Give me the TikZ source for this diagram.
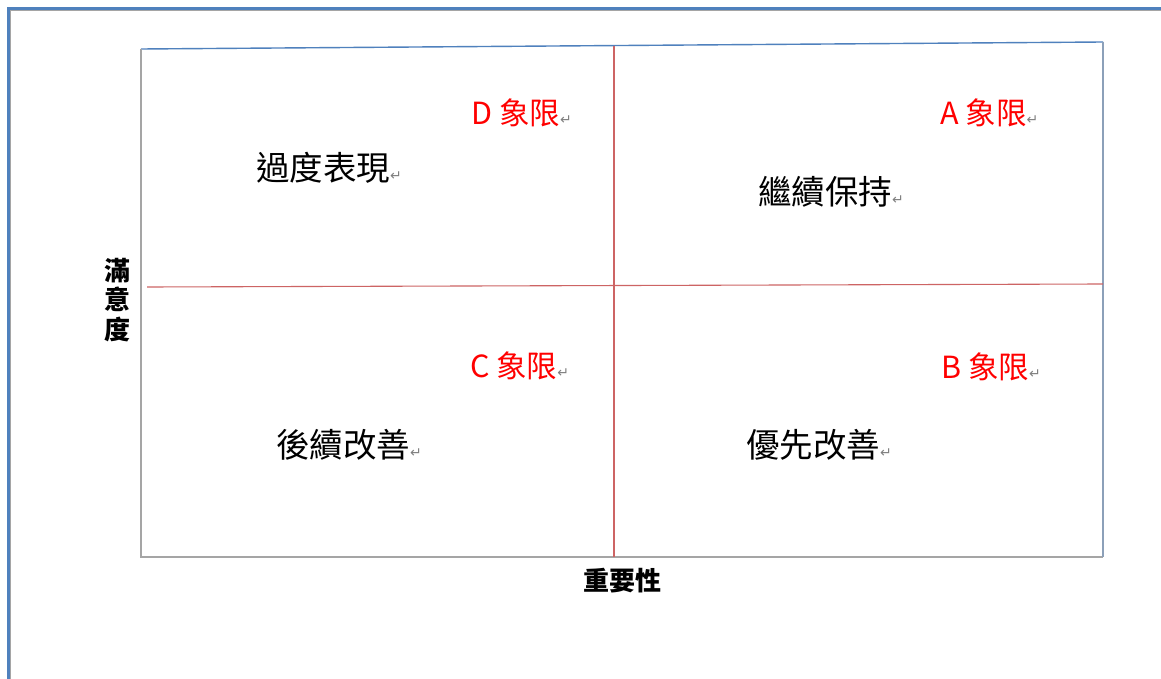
\documentclass[tikz,border=0pt]{standalone}
\usepackage{fontspec}
\newfontfamily\cjk{Noto Sans CJK TC}
\newfontfamily\symf{DejaVu Sans}
\definecolor{frameblue}{RGB}{79,129,189}
\definecolor{linered}{RGB}{205,100,100}
\definecolor{framegray}{RGB}{165,165,165}
\definecolor{sidegray}{RGB}{140,160,185}
\newcommand\retmark{{\symf\fontsize{14}{14}\selectfont\color{gray}↵}}
\begin{document}
\begin{tikzpicture}[x=1pt,y=-1pt,
  quad/.style={text=red, font=\cjk\fontsize{30.5}{30.5}\selectfont, inner sep=0pt, anchor=west},
  act/.style={text=black, font=\cjk\fontsize{33.5}{33.5}\selectfont, inner sep=0pt, anchor=west},
  axislabel/.style={text=black, font=\cjk\bfseries\fontsize{26}{29.5}\selectfont, inner sep=0pt, align=center},
  boxline/.style={line width=1.4pt},
  midline/.style={linered, line width=1.1pt}]
\useasboundingbox (0,0) rectangle (1161,679);
\fill[white] (0,0) rectangle (1161,679);
% outer page frame
\draw[frameblue, line width=2.6pt] (8.5,700) -- (8.5,8.5) -- (1180,8.5);
\draw[framegray, line width=0.8pt] (10.8,700) -- (10.8,10.8) -- (1180,10.8);
% chart box
\coordinate (tl) at (141,49);
\coordinate (tr) at (1103,42);
\coordinate (bl) at (141,557);
\coordinate (br) at (1103,557);
\draw[frameblue, boxline] (tl) -- (tr);
\draw[framegray, boxline] (tl) -- (bl) -- (br);
\draw[sidegray, boxline] (tr) -- (br);
% quadrant dividers
\coordinate (vt) at (614,46);
\coordinate (vb) at (614,557);
\coordinate (hl) at (147,287);
\coordinate (hr) at (1103,284);
\draw[midline] (vt) -- (vb);
\draw[midline] (hl) -- (hr);
% quadrant labels
\node[quad] (qd) at (471,113) {D 象限\retmark};
\node[quad] (qa) at (940,113) {A 象限\retmark};
\node[quad] (qc) at (470,366) {C 象限\retmark};
\node[quad] (qb) at (941,367) {B 象限\retmark};
% actions
\node[act] (over) at (256,168) {過度表現\retmark};
\node[act] (keep) at (758,192) {繼續保持\retmark};
\node[act] (later) at (276,445) {後續改善\retmark};
\node[act] (first) at (746,445) {優先改善\retmark};
% axis labels
\node[axislabel] (ylab) at (117,300) {滿\\意\\度};
\node[axislabel] (xlab) at (622,581) {重要性};
\end{tikzpicture}
\end{document}
